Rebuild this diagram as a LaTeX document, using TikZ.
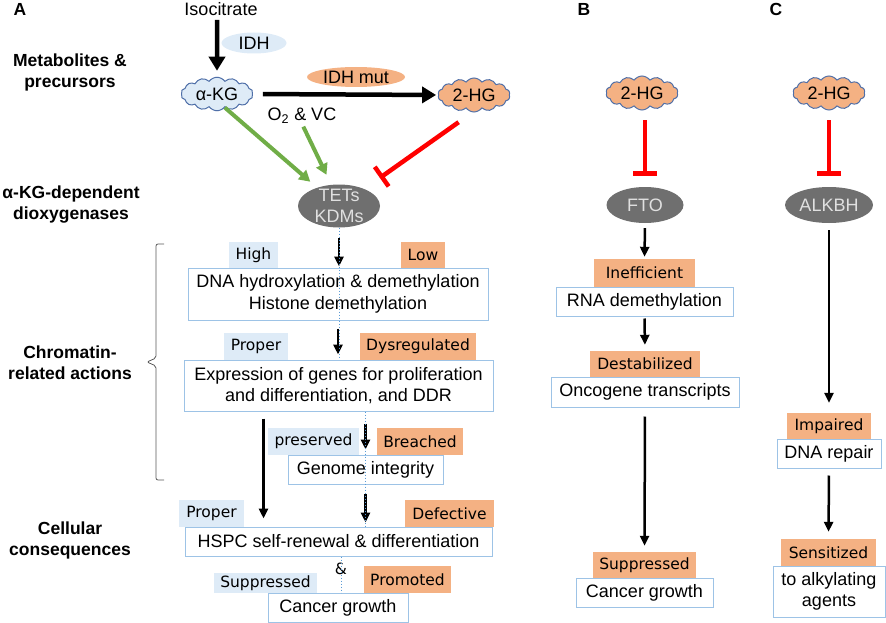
\documentclass[tikz,border=0pt]{standalone}
\usepackage{fontspec}
\setmainfont{Liberation Sans}
\newfontfamily\tagfont{DejaVu Sans}
\usetikzlibrary{shapes.geometric,shapes.symbols,arrows.meta}
\definecolor{lightblue}{HTML}{DEEBF7}
\definecolor{tagorange}{HTML}{F4B183}
\definecolor{boxline}{HTML}{9DC3E6}
\definecolor{cloudline}{HTML}{4F6FA8}
\definecolor{enzgray}{HTML}{6F6F6F}
\definecolor{actgreen}{HTML}{70AD47}
\definecolor{splitblue}{HTML}{5B9BD5}

\begin{document}
\begin{tikzpicture}[x=1pt,y=-1pt]
	\tikzstyle{every node}=[inner sep=0pt, font=\fontsize{18}{21.5}\selectfont]
	\tikzstyle{rowlabel}=[font=\bfseries\fontsize{17.5}{21}\selectfont, align=center]
	\tikzstyle{panel}=[font=\bfseries\fontsize{17.5}{21}\selectfont]
	\tikzstyle{metab}=[cloud, cloud puffs=14, cloud puff arc=110, aspect=2.2, draw=cloudline, line width=1pt, minimum width=72pt, minimum height=33pt]
	\tikzstyle{enzyme}=[ellipse, fill=enzgray, text=white!88!black, align=center]
	\tikzstyle{cofactor}=[ellipse]
	\tikzstyle{outbox}=[draw=boxline, line width=1pt, align=center]
	\tikzstyle{normtag}=[fill=lightblue, font=\tagfont\fontsize{15.5}{18}\selectfont]
	\tikzstyle{mutag}=[fill=tagorange, font=\tagfont\fontsize{15.5}{18}\selectfont]
	\tikzstyle{fat}=[line width=4.5pt, -{Triangle[width=16pt,length=14pt]}]
	\tikzstyle{arr}=[line width=2.5pt, -{Triangle[width=9pt,length=10pt]}]
	\tikzstyle{act}=[actgreen, line width=4pt, -{Triangle[width=12pt,length=11pt]}]
	\tikzstyle{inh}=[red, line width=4.5pt, -{Bar[width=24pt]}]
	\tikzstyle{split}=[splitblue, line width=1pt, dotted]
	\useasboundingbox (0,0) rectangle (886,623);

	\node[panel] (pa) at (20,9.5) {A};
	\node[panel] (pb) at (584,9.5) {B};
	\node[panel] (pc) at (776,9.5) {C};
	\node[rowlabel] (lmet) at (70,72) {Metabolites \&\\precursors};
	\node[rowlabel] (ldiox) at (71,205) {α-KG-dependent\\dioxygenases};
	\node[rowlabel] (lchrom) at (70,363) {Chromatin-\\related actions};
	\node[rowlabel] (lcell) at (70,540) {Cellular\\consequences};

	\node (isocit) at (221,9) {Isocitrate};
	\node[cofactor, fill=lightblue, minimum width=65pt, minimum height=21pt] (idh) at (254,43) {IDH};
	\node[metab, fill=lightblue] (akg) at (217,94) {α-KG};
	\node[cofactor, fill=tagorange, minimum width=98pt, minimum height=20pt] (idhmut) at (356,77) {IDH mut};
	\node[metab, fill=tagorange] (hg) at (474,95) {2-HG};
	\node (o2) at (302,116) {O\textsubscript{2} \& VC};
	\node[enzyme, minimum width=82pt, minimum height=43pt, inner ysep=-5pt] (tet) at (339,206) {TETs\\KDMs};

	\node[normtag, minimum width=49pt, minimum height=26pt] (high) at (253.5,255) {High};
	\node[mutag, minimum width=44pt, minimum height=26pt] (low) at (423,255) {Low};
	\node[outbox, minimum width=300pt, minimum height=52pt] (dnabox) at (338,294) {DNA hydroxylation \& demethylation\\Histone demethylation};
	\node[normtag, minimum width=64pt, minimum height=27pt] (proper) at (256,346.5) {Proper};
	\node[mutag, minimum width=116pt, minimum height=27pt] (dysreg) at (418,346.5) {Dysregulated};
	\node[outbox, minimum width=309pt, minimum height=51pt] (exprbox) at (338.5,385.5) {Expression of genes for proliferation\\and differentiation, and DDR};
	\node[normtag, minimum width=91pt, minimum height=27pt] (preserved) at (313.5,441.5) {preserved};
	\node[mutag, minimum width=86pt, minimum height=27pt] (breached) at (420,441.5) {Breached};
	\node[outbox, minimum width=155pt, minimum height=29pt] (genome) at (365.5,469.5) {Genome integrity};
	\node[normtag, minimum width=65pt, minimum height=27pt] (properb) at (211.5,513.5) {Proper};
	\node[mutag, minimum width=89pt, minimum height=27pt] (defective) at (449.5,513.5) {Defective};
	\node[outbox, minimum width=307pt, minimum height=29pt] (hspc) at (338.5,541.5) {HSPC self-renewal \& differentiation};
	\node[font=\tagfont\fontsize{15.5}{18}\selectfont] (amp) at (341,569) {\&};
	\node[normtag, minimum width=103pt, minimum height=20pt] (suppressed) at (265.5,583) {Suppressed};
	\node[mutag, minimum width=87pt, minimum height=27pt] (promoted) at (407.5,579.5) {Promoted};
	\node[outbox, minimum width=140pt, minimum height=29pt] (cancer) at (338,607.5) {Cancer growth};

	\node[metab, fill=tagorange] (hgb) at (642,93) {2-HG};
	\node[enzyme, minimum width=77pt, minimum height=36pt] (fto) at (645,205) {FTO};
	\node[mutag, minimum width=101pt, minimum height=28pt] (ineff) at (644.5,273) {Inefficient};
	\node[outbox, minimum width=177pt, minimum height=29pt] (rna) at (644.5,301.5) {RNA demethylation};
	\node[mutag, minimum width=110pt, minimum height=26pt] (destab) at (645,364) {Destabilized};
	\node[outbox, minimum width=188pt, minimum height=30pt] (onco) at (645,392) {Oncogene transcripts};
	\node[mutag, minimum width=103pt, minimum height=26pt] (suppb) at (644.5,565) {Suppressed};
	\node[outbox, minimum width=137pt, minimum height=29pt] (cancerb) at (644.5,592.5) {Cancer growth};

	\node[metab, fill=tagorange] (hgc) at (829,93) {2-HG};
	\node[enzyme, minimum width=88pt, minimum height=36pt] (alkbh) at (829,205) {ALKBH};
	\node[mutag, minimum width=84pt, minimum height=26pt] (impaired) at (829,426) {Impaired};
	\node[outbox, minimum width=104pt, minimum height=29pt] (repair) at (829,453.5) {DNA repair};
	\node[mutag, minimum width=95pt, minimum height=27pt] (sensit) at (828.5,552.5) {Sensitized};
	\node[outbox, minimum width=112pt, minimum height=51pt] (alkyl) at (829,591.5) {to alkylating\\agents};

	\draw[fat, shorten <=4pt, shorten >=6pt] (isocit.south -| akg) -- (akg.north);
	\draw[fat, shorten <=10pt, shorten >=2pt] (akg.east) -- (hg.west);
	\draw[act, shorten >=9pt] (akg.-60) -- (tet.140);
	\draw[act, shorten <=3pt, shorten >=11pt] (o2.south) -- (tet.110);
	\draw[inh, shorten <=17pt, shorten >=19pt] (hg.-95) -- (tet.34);
	\draw[arr, shorten <=10pt, shorten >=1pt] (tet.south) -- (tet.south |- dnabox.north);
	\draw[arr, shorten <=8pt, shorten >=5pt] (dnabox.south) -- (dnabox.south |- exprbox.north);
	\draw[arr, shorten <=12pt, shorten >=5pt] (exprbox.south -| genome) -- (genome.north);
	\draw[arr, shorten <=7pt, shorten >=8pt] ([xshift=-75pt]exprbox.south) -- ([xshift=-75pt]exprbox.south |- hspc.north);
	\draw[arr, shorten <=9pt, shorten >=4pt] (genome.south) -- (genome.south |- hspc.north);
	\draw[split] (tet.south) -- (tet.south |- exprbox.north);
	\draw[split] (exprbox.south -| genome) -- (genome |- hspc.north);
	\draw[split] (hspc.south -| amp) -- (cancer.north -| amp);

	\draw[inh, shorten <=10pt, shorten >=11pt] (hgb.south -| fto) -- (fto.north);
	\draw[arr, shorten <=5pt, shorten >=2pt] (fto.south) -- (ineff.north);
	\draw[arr, shorten <=2pt, shorten >=6pt] (rna.south) -- (destab.north);
	\draw[arr, shorten <=9pt, shorten >=6pt] (onco.south) -- (suppb.north);
	\draw[inh, shorten <=10pt, shorten >=11pt] (hgc.south -| alkbh) -- (alkbh.north);
	\draw[arr, shorten <=7pt, shorten >=10pt] (alkbh.south) -- (impaired.north);
	\draw[arr, shorten <=7pt, shorten >=7pt] (repair.south) -- (sensit.north);

	\draw[gray!70!black, line width=0.8pt, rounded corners=2pt] (164,244) -- (156,244) -- (156,358) -- (147,362) -- (156,366) -- (156,480) -- (164,480);
\end{tikzpicture}
\end{document}
